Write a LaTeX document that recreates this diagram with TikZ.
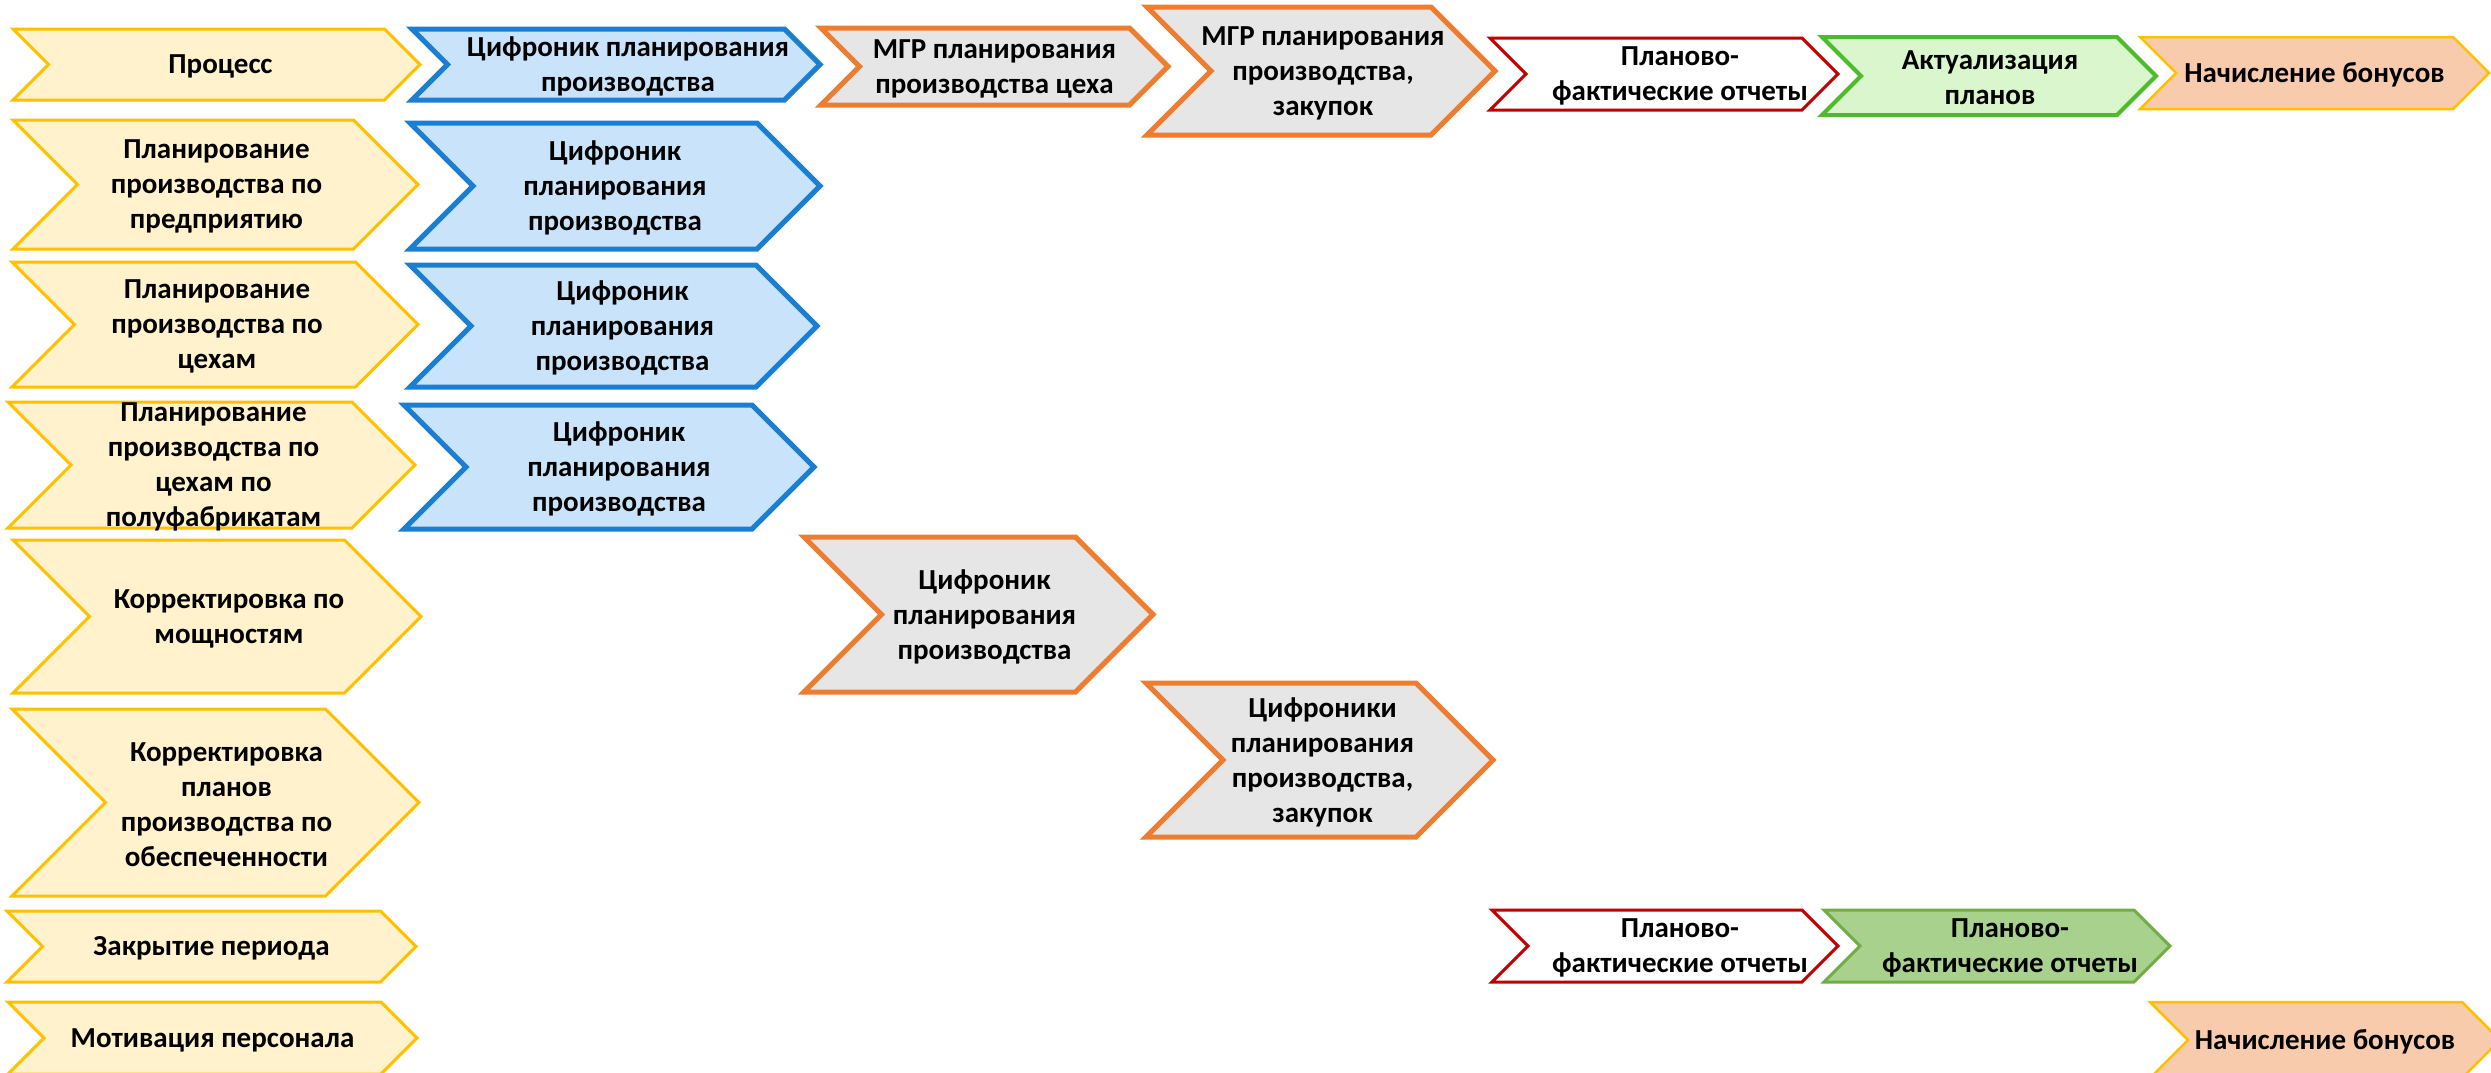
\documentclass[tikz,border=0pt]{standalone}
\usepackage{fontspec}
\setmainfont{Carlito}
\usetikzlibrary{positioning}

\definecolor{yelLine}{HTML}{FFC000}
\definecolor{yelFill}{HTML}{FFF2CC}
\definecolor{bluLine}{HTML}{1C7ED0}
\definecolor{bluFill}{HTML}{C9E4FA}
\definecolor{orgLine}{HTML}{ED7D31}
\definecolor{orgFill}{HTML}{E6E6E6}
\definecolor{redLine}{HTML}{C00000}
\definecolor{grnLine}{HTML}{4DBB2B}
\definecolor{grnFill}{HTML}{DAF6CD}
\definecolor{dgrLine}{HTML}{70AD47}
\definecolor{dgrFill}{HTML}{A9D18E}
\definecolor{pchFill}{HTML}{F8CBAD}

\tikzset{
  chevtext/.style={font=\bfseries\fontsize{29}{35}\selectfont, align=center, inner sep=0pt},
  yellowbox/.style={draw=yelLine, fill=yelFill, line width=3},
  bluebox/.style={draw=bluLine, fill=bluFill, line width=5},
  orangebox/.style={draw=orgLine, fill=orgFill, line width=5},
  redbox/.style={draw=redLine, fill=white, line width=3},
  greenbox/.style={draw=grnLine, fill=grnFill, line width=4},
  dgreenbox/.style={draw=dgrLine, fill=dgrFill, line width=3},
  peachbox/.style={draw=yelLine, fill=pchFill, line width=2.5}
}

% chevron: #1 style, #2 name, #3 left, #4 right, #5 top, #6 bottom, #7 text shift, #8 text
\newcommand{\chev}[8]{%
  \pgfmathsetmacro{\dd}{(#6-#5)/2}%
  \pgfmathsetmacro{\mm}{(#6+#5)/2}%
  \draw[#1] (#3,#5) -- ({#4-\dd},#5) -- (#4,\mm) -- ({#4-\dd},#6)
    -- (#3,#6) -- ({#3+\dd},\mm) -- cycle;
  \node[chevtext] (#2) at ({(#3+#4)/2+#7},\mm+2) {#8};
}

\begin{document}
\begin{tikzpicture}[x=1pt, y=-1pt]
  \useasboundingbox (0,0) rectangle (2491,1072);

  % left column: processes
  \chev{yellowbox}{proc}{13}{420}{29}{100}{4}{Процесс}
  \chev{yellowbox}{planPred}{13}{418}{120}{249}{1}{Планирование\\производства по\\предприятию}
  \chev{yellowbox}{planCeh}{12}{418}{262}{387}{2}{Планирование\\производства по\\цехам}
  \chev{yellowbox}{planPf}{8}{415}{402}{528}{2}{Планирование\\производства по\\цехам по\\полуфабрикатам}
  \chev{yellowbox}{korrMosh}{13}{421}{540}{693}{12}{Корректировка по\\мощностям}
  \chev{yellowbox}{korrObes}{12}{419}{709}{896}{11}{Корректировка\\планов\\производства по\\обеспеченности}
  \chev{yellowbox}{zakr}{7}{416}{911}{982}{0}{Закрытие периода}
  \chev{yellowbox}{motiv}{8}{417}{1002}{1074}{0}{Мотивация персонала}

  % blue column
  \chev{bluebox}{cifTop}{412}{820}{29}{100}{12}{Цифроник планирования\\производства}
  \chev{bluebox}{cifPred}{410}{820}{123}{249}{0}{Цифроник\\планирования\\производства}
  \chev{bluebox}{cifCeh}{410}{817}{265}{387}{9}{Цифроник\\планирования\\производства}
  \chev{bluebox}{cifPf}{404}{814}{405}{529}{10}{Цифроник\\планирования\\производства}

  % orange
  \chev{orangebox}{mgrCeh}{821}{1168}{28}{105}{0}{МГР планирования\\производства цеха}
  \chev{orangebox}{mgrZak}{1147}{1495}{7}{135}{2}{МГР планирования\\производства,\\закупок}
  \chev{orangebox}{cifMosh}{804}{1153}{537}{692}{6}{Цифроник\\планирования\\производства}
  \chev{orangebox}{cifZak}{1146}{1493}{683}{837}{3}{Цифроники\\планирования\\производства,\\закупок}

  % reports and bonuses
  \chev{redbox}{pfTop}{1490}{1838}{38}{110}{16}{Планово-\\фактические отчеты}
  \chev{greenbox}{aktual}{1822}{2156}{37}{115}{1}{Актуализация\\планов}
  \chev{peachbox}{bonTop}{2140}{2489}{37}{109}{0}{Начисление бонусов}
  \chev{redbox}{pfZakr}{1492}{1838}{910}{982}{15}{Планово-\\фактические отчеты}
  \chev{dgreenbox}{pfDone}{1824}{2170}{910}{982}{13}{Планово-\\фактические отчеты}
  \chev{peachbox}{bonMotiv}{2150}{2500}{1002}{1078}{0}{Начисление бонусов}
\end{tikzpicture}
\end{document}
